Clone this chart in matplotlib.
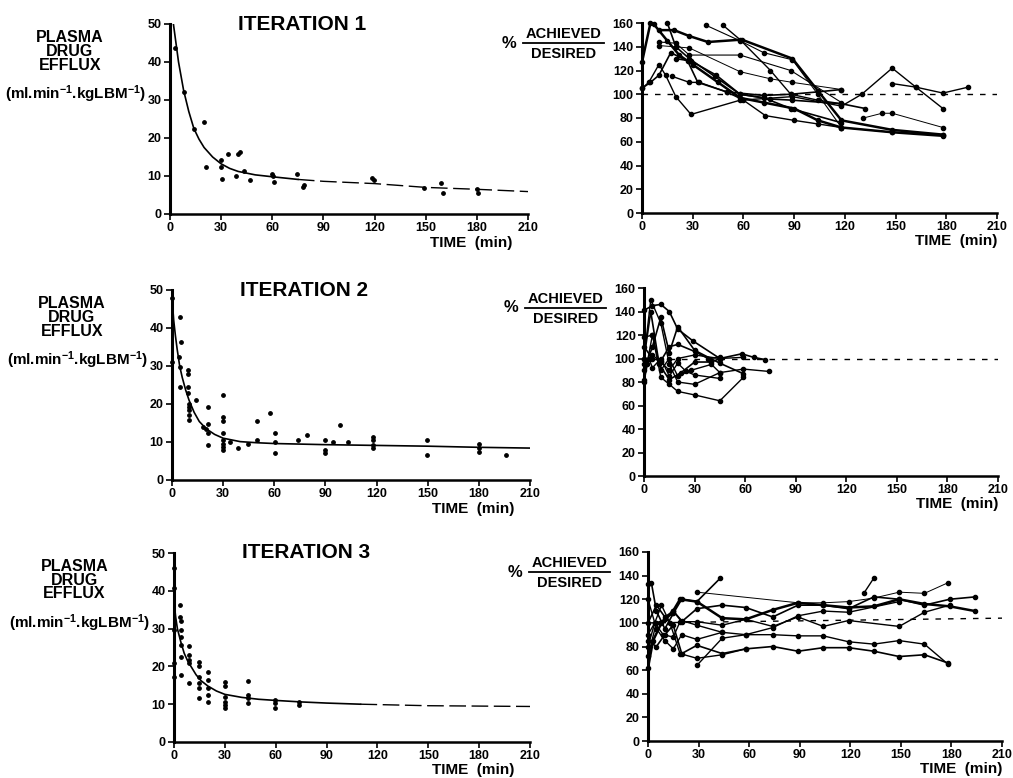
import matplotlib
matplotlib.use('Agg')
import matplotlib.pyplot as plt
import matplotlib.transforms as mtransforms

plt.rcParams['font.family'] = ['Liberation Sans', 'DejaVu Sans']
plt.rcParams['font.weight'] = 'bold'
plt.rcParams['mathtext.fontset'] = 'custom'
plt.rcParams['mathtext.bf'] = 'Liberation Sans:bold'
plt.rcParams['mathtext.rm'] = 'Liberation Sans:bold'
plt.rcParams['mathtext.default'] = 'bf'

# ---------------- data ----------------
x_ticks = [0, 30, 60, 90, 120, 150, 180, 210]
efflux_ticks = [0, 10, 20, 30, 40, 50]
ratio_ticks = [0, 20, 40, 60, 80, 100, 120, 140, 160]
titles = ['ITERATION 1', 'ITERATION 2', 'ITERATION 3']

# iteration 1 - efflux
it1_t = [2.9, 8.2, 14.2, 19.9, 21, 29.8, 30.2, 30.6, 34, 39, 40, 41, 43.5, 47,
         60, 60.5, 61, 74.7, 78, 78.5, 118.4, 119.8, 149, 159, 160, 180, 180.5]
it1_v = [43.8, 32, 22.5, 24.3, 12.4, 12.5, 14.2, 9.2, 15.8, 10, 15.8, 16.2, 11.4, 9,
         10.6, 10.1, 8.3, 10.6, 7, 7.6, 9.4, 9, 6.8, 8.2, 5.6, 6.7, 5.6]
it1_fit_t = [2, 5, 8, 11, 14, 17, 20, 25, 30, 35, 40, 50, 60, 75, 90, 105, 120, 150, 180, 210]
it1_fit_v = [50, 40, 32.5, 27, 22.5, 19.7, 17.5, 15, 13.2, 12, 11.2, 10.3, 9.8, 9.1, 8.6,
             8.3, 8.0, 7.0, 6.5, 5.9]

# iteration 2 - efflux
it2_t = [0, 0, 4.5, 4, 4.5, 5.5, 4.5, 9.4, 9.4, 9.4, 9.4, 10, 10, 10, 10, 10, 14.3,
         18.2, 19.8, 21.2, 21, 21, 21.2, 30, 30, 30, 30, 30, 30, 30, 30, 34, 38.8,
         44.7, 49.6, 49.6, 57.5, 60.4, 60.4, 60.4, 74, 79, 89.8, 89.8, 89.8, 94.7,
         98.6, 103.5, 118, 118, 118, 118, 149.6, 149.6, 180, 180, 180, 196]
it2_v = [47.8, 31, 43, 32.5, 29.8, 36.4, 24.6, 29, 28, 24.6, 22.8, 20, 19.3, 18.4,
         17, 15.8, 21, 14, 13.3, 19.1, 14.7, 12.3, 9.2, 22.4, 16.7, 15.4, 12.3, 10.5,
         9.6, 8.8, 7.9, 10, 8.3, 9.6, 15.4, 10.5, 17.7, 12.3, 10, 7, 10.4, 11.8,
         10.4, 7.9, 7, 10, 14.5, 10, 11.4, 10.4, 9.2, 8.3, 10.5, 6.6, 9.6, 8.3, 7.5, 6.5]
it2_fit_t = [0, 1, 2, 3, 4.5, 6, 8, 10, 13, 16, 20, 25, 30, 40, 50, 60, 90, 120, 150, 180, 210]
it2_fit_v = [48, 42, 38, 34.5, 30, 27, 23.7, 21, 17.8, 15.4, 13.5, 12, 11, 10.1, 9.8,
             9.6, 9.3, 9.1, 8.9, 8.6, 8.4]

# iteration 3 - efflux
it3_t = [0, 0, 0, 0, 0, 3.3, 3.3, 4.3, 4.3, 4.3, 4.3, 4.3, 4.3, 9, 9, 9, 9, 9, 14.9,
         14.9, 14.9, 14.9, 14.9, 14.9, 20, 20, 20, 20, 20, 30, 30, 30, 30, 30, 30,
         43.9, 43.9, 43.9, 43.9, 59.4, 59.4, 59.4, 73.9, 73.9]
it3_v = [46, 40.7, 29.7, 20.8, 17.3, 36.3, 33.2, 31.9, 29.7, 27.9, 25.7, 22.6, 17.8,
         25.3, 23, 21.8, 20.8, 15.5, 21.2, 20, 17.3, 15.5, 14.2, 11.6, 18.6, 16.4,
         14.2, 12.5, 10.7, 16, 14.7, 12, 10.7, 9.8, 8.9, 16.2, 12.5, 11.6, 10.2,
         11.1, 10.2, 8.9, 10.7, 9.8]
it3_fit_t = [0, 1, 2, 4, 6, 8, 10, 13, 16, 20, 25, 30, 40, 50, 60, 75, 90, 110, 130,
             150, 180, 210]
it3_fit_v = [37, 33, 30, 26.5, 23.5, 21.5, 20, 17.8, 16.2, 14.8, 13.5, 12.6, 11.8,
             11.3, 11, 10.6, 10.3, 10.0, 9.8, 9.6, 9.5, 9.4]

# iteration 1 - % achieved/desired, one list per patient
ratio1_t = [
    [0, 5, 7, 15, 22, 30, 45, 58, 72, 90, 104, 118, 148, 178],
    [0, 4, 10, 14, 20, 29, 58, 89, 118, 130, 148, 162, 178],
    [0, 5, 10, 17, 27, 33, 50, 72, 88, 104, 118],
    [10, 19, 28, 39, 59, 89, 104, 118, 148, 178],
    [10, 28, 58, 76, 89, 118],
    [15, 20, 28, 43, 58, 76, 89, 118, 132],
    [18, 28, 34, 50, 60, 73, 90, 104, 118],
    [38, 58, 72, 89, 104, 118, 148, 178],
    [48, 58, 76, 88, 104, 118],
    [10, 20, 28, 58, 88, 118],
    [20, 29, 44, 58, 72, 88, 118],
    [131, 142, 148, 178],
    [148, 162, 178, 193],
]
ratio1_v = [
    [127, 160, 159, 145, 133, 125, 110, 97, 93, 88, 78, 72, 68, 65],
    [105, 110, 125, 116, 98, 83, 95, 98, 90, 100, 122, 106, 88],
    [105, 110, 116, 135, 128, 110, 102, 99, 100, 102, 104],
    [154, 154, 149, 144, 146, 130, 103, 78, 70, 66],
    [141, 139, 119, 113, 110, 104],
    [160, 140, 130, 115, 100, 96, 95, 92, 88],
    [115, 110, 110, 102, 95, 82, 78, 75, 72],
    [158, 145, 135, 129, 100, 72, 68, 66],
    [158, 146, 120, 100, 95, 92],
    [144, 143, 133, 133, 120, 93],
    [130, 128, 116, 100, 97, 88, 76],
    [80, 84, 84, 72],
    [109, 106, 101, 106],
]
ratio1_width = [1.8, 1.0, 1.2, 1.8, 0.7, 1.2, 1.0, 0.8, 1.0, 0.8, 1.2, 0.7, 1.0]

# iteration 2
ratio2_t = [
    [0, 5, 10, 15, 20, 29, 45, 58, 65, 72],
    [0, 4, 10, 15, 20, 30, 45, 59, 74],
    [0, 5, 10, 15, 20, 30, 45, 59],
    [0, 5, 10, 15, 20, 30, 45, 59],
    [0, 3, 5, 10, 15, 20, 25, 30, 45],
    [0, 5, 10, 15, 20, 30, 38, 45],
    [0, 2, 5, 10, 15, 20, 30, 45, 59],
    [0, 5, 10, 15, 20, 28, 40, 45],
    [0, 4, 9, 15, 22, 30, 40, 45],
]
ratio2_v = [
    [141, 145, 146, 140, 125, 115, 100, 104, 101, 99],
    [100, 150, 130, 95, 80, 78, 88, 91, 89],
    [82, 120, 84, 78, 72, 69, 64, 84],
    [90, 110, 135, 105, 127, 107, 96, 87],
    [95, 100, 92, 100, 85, 96, 89, 86, 83],
    [110, 100, 98, 110, 112, 106, 100, 101],
    [80, 95, 103, 97, 90, 100, 103, 100, 101],
    [118, 120, 90, 100, 85, 90, 95, 88],
    [100, 140, 95, 82, 88, 97, 97, 100],
]
ratio2_width = [1.2, 1.0, 1.0, 1.2, 1.0, 1.2, 1.0, 1.0, 1.2]

# iteration 3
ratio3_t = [
    [0, 2, 5, 10, 15, 20, 29, 43],
    [29, 89, 104, 119, 134, 149, 164, 178],
    [0, 5, 10, 15, 20, 29, 44, 58, 74, 89, 104, 119, 134, 149, 164, 179, 194],
    [0, 3, 8, 14, 19, 29, 44, 58, 74, 89, 104, 119, 134, 149, 164, 179, 194],
    [0, 4, 9, 15, 19, 29, 44, 58, 74, 89, 104, 119, 149, 164, 179],
    [0, 5, 10, 15, 20, 29, 44, 58, 74, 89, 104, 119, 134, 149, 164, 178],
    [0, 5, 10, 15, 20, 29, 44, 58, 74, 89, 104, 119, 134, 149, 164, 178],
    [29, 44, 58, 74, 89, 104, 119, 149],
    [0, 5, 10, 15, 20, 29, 44],
    [0, 4, 8, 13, 19, 29, 44, 58],
    [128, 134],
]
ratio3_v = [
    [133, 134, 110, 95, 108, 120, 118, 138],
    [126, 117, 117, 118, 121, 126, 125, 134],
    [100, 115, 105, 110, 101, 112, 115, 113, 105, 115, 115, 112, 122, 120, 115, 120, 122],
    [62, 85, 100, 108, 120, 118, 104, 103, 111, 117, 115, 113, 114, 120, 116, 114, 110],
    [90, 100, 90, 88, 101, 101, 98, 103, 97, 105, 97, 102, 97, 109, 115],
    [120, 95, 85, 78, 90, 86, 92, 90, 90, 89, 89, 84, 82, 85, 82, 65],
    [85, 80, 90, 98, 74, 81, 74, 78, 80, 76, 79, 79, 76, 71.5, 73, 66],
    [64, 87, 90, 96, 106, 110, 109, 118],
    [72, 100, 103, 110, 102, 98, 92],
    [80, 100, 115, 100, 74, 70, 73, 78],
    [125, 138],
]
ratio3_width = [1.2, 0.7, 1.2, 1.8, 1.0, 1.0, 1.2, 1.0, 1.0, 1.0, 1.0]

ref_t = [0, 210]
ref1_v = [100, 100]
ref2_v = [100, 100]
ref3_v = [100, 104]

# ---------------- layout ----------------
W, H = 1013, 778
fig = plt.figure(figsize=(W / 100, H / 100), dpi=100)


def px_rect(x0, x1, ytop, y0):
    return [x0 / W, 1 - y0 / H, (x1 - x0) / W, (y0 - ytop) / H]


left_rects = [px_rect(170, 528, 24, 214), px_rect(172, 530, 290, 480), px_rect(174, 530, 553, 742)]
right_rects = [px_rect(642, 997, 23, 213), px_rect(644, 998, 288, 476), px_rect(648, 1002, 552, 741)]


def style_axes(ax, yticks, time_x):
    ax.set_xlim(0, 210)
    ax.set_ylim(0, yticks[-1])
    ax.set_xticks(x_ticks)
    ax.set_yticks(yticks)
    ax.spines['top'].set_visible(False)
    ax.spines['right'].set_visible(False)
    ax.spines['left'].set_linewidth(2.2)
    ax.spines['bottom'].set_linewidth(1.8)
    ax.tick_params(labelsize=9, width=1.2, length=4, pad=2)
    for lab in ax.get_xticklabels() + ax.get_yticklabels():
        lab.set_fontweight('bold')
    ax.text(time_x, -0.15, 'TIME  (min)', transform=ax.transAxes, ha='right',
            va='center', fontsize=11)


efflux_sets = [(it1_t, it1_v, it1_fit_t, it1_fit_v, 80),
               (it2_t, it2_v, it2_fit_t, it2_fit_v, 210),
               (it3_t, it3_v, it3_fit_t, it3_fit_v, 110)]

for i, (t, v, ft, fv, solid_end) in enumerate(efflux_sets):
    ax = fig.add_axes(left_rects[i])
    style_axes(ax, efflux_ticks, 0.955)
    ax.scatter(t, v, s=6, color='black', zorder=3, clip_on=False)
    solid_t = [a for a in ft if a <= solid_end]
    ax.plot(solid_t, fv[:len(solid_t)], color='black', lw=1.2)
    if len(solid_t) < len(ft):
        ax.plot(ft[len(solid_t) - 1:], fv[len(solid_t) - 1:], color='black', lw=1.0,
                ls=(0, (12, 4)))
    ax.text(0.37, 1.0, titles[i], transform=ax.transAxes, ha='center', va='center',
            fontsize=15)
    tr = mtransforms.blended_transform_factory(ax.transAxes, ax.transData)
    for txt, y in zip(['PLASMA', 'DRUG', 'EFFLUX'], [46.5, 42.8, 39.2]):
        ax.text(-0.28, y, txt, transform=tr, ha='center', va='center', fontsize=11.5)
    ax.text(-0.265, 31.5, r'(ml.min$^{-1}$.kgLBM$^{-1}$)', transform=tr,
            ha='center', va='center', fontsize=11)

ratio_sets = [(ratio1_t, ratio1_v, ratio1_width, ref1_v),
              (ratio2_t, ratio2_v, ratio2_width, ref2_v),
              (ratio3_t, ratio3_v, ratio3_width, ref3_v)]

for i, (ts, vs, widths, ref_v) in enumerate(ratio_sets):
    ax = fig.add_axes(right_rects[i])
    style_axes(ax, ratio_ticks, 1.0)
    ax.plot(ref_t, ref_v, color='black', lw=1.0, ls=(0, (4, 5)))
    for t, v, w in zip(ts, vs, widths):
        ax.plot(t, v, color='black', lw=w, marker='o', ms=3, clip_on=False)
    tr = mtransforms.blended_transform_factory(ax.transAxes, ax.transData)
    ax.text(-0.221, 151, 'ACHIEVED', transform=tr, ha='center', va='center', fontsize=10.5)
    ax.text(-0.221, 134, 'DESIRED', transform=tr, ha='center', va='center', fontsize=10.5)
    ax.plot([-0.335, -0.107], [143, 143], transform=tr, clip_on=False, color='black', lw=1.3)
    ax.text(-0.375, 143, '%', transform=tr, ha='center', va='center', fontsize=12)

fig.savefig('out.png', dpi=100)
plt.close(fig)
